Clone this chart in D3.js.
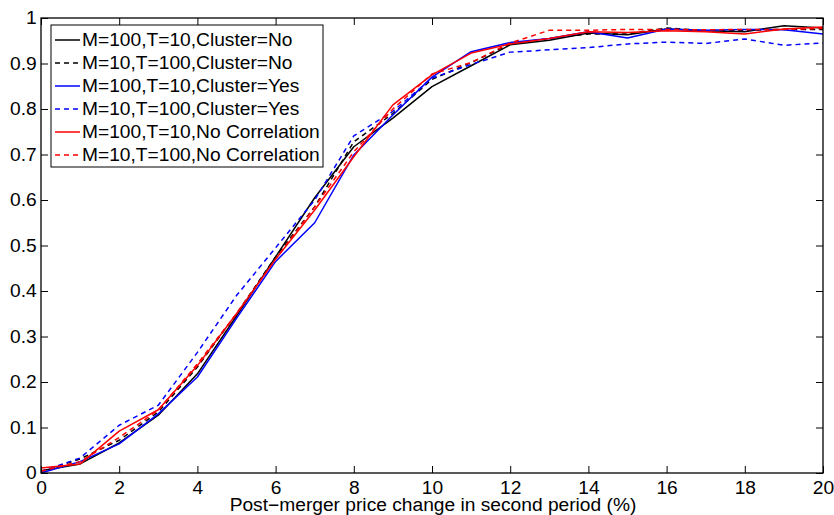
<!DOCTYPE html>
<html>
<head>
<meta charset="utf-8">
<script src="https://cdn.jsdelivr.net/npm/d3@7"></script>
<style>
  html, body { margin: 0; padding: 0; background: #fff; }
  svg { display: block; font-family: "Liberation Sans", Arial, Helvetica, sans-serif; }
</style>
</head>
<body>
<svg id="chart" width="834" height="515"></svg>
<script>
// Price change grid (%)
const priceChange = d3.range(0, 21);

// Cumulative share of simulations by scenario
const m100t10ClusterNo = [0.005, 0.020, 0.066, 0.127, 0.218, 0.345, 0.475, 0.605, 0.717, 0.780, 0.849, 0.895, 0.941, 0.951, 0.967, 0.963, 0.976, 0.972, 0.970, 0.983, 0.978];
const m10t100ClusterNo = [0.003, 0.031, 0.072, 0.134, 0.233, 0.350, 0.475, 0.585, 0.728, 0.790, 0.865, 0.902, 0.943, 0.955, 0.965, 0.965, 0.978, 0.972, 0.973, 0.975, 0.975];
const m100t10ClusterYes = [0.000, 0.025, 0.064, 0.130, 0.211, 0.340, 0.465, 0.550, 0.699, 0.787, 0.870, 0.926, 0.946, 0.955, 0.970, 0.956, 0.976, 0.973, 0.975, 0.974, 0.965];
const m10t100ClusterYes = [0.003, 0.033, 0.105, 0.149, 0.265, 0.390, 0.495, 0.600, 0.741, 0.795, 0.868, 0.898, 0.925, 0.930, 0.935, 0.943, 0.947, 0.944, 0.954, 0.940, 0.945];
const m100t10NoCorr = [0.011, 0.020, 0.092, 0.139, 0.236, 0.350, 0.470, 0.578, 0.695, 0.809, 0.875, 0.923, 0.943, 0.955, 0.970, 0.968, 0.972, 0.970, 0.965, 0.976, 0.980];
const m10t100NoCorr = [0.004, 0.025, 0.078, 0.138, 0.240, 0.350, 0.470, 0.585, 0.706, 0.800, 0.877, 0.902, 0.945, 0.973, 0.973, 0.975, 0.975, 0.974, 0.975, 0.975, 0.977];

const seriesLabels = [
  "M=100,T=10,Cluster=No",
  "M=10,T=100,Cluster=No",
  "M=100,T=10,Cluster=Yes",
  "M=10,T=100,Cluster=Yes",
  "M=100,T=10,No Correlation",
  "M=10,T=100,No Correlation"
];
const seriesValues = [m100t10ClusterNo, m10t100ClusterNo, m100t10ClusterYes, m10t100ClusterYes, m100t10NoCorr, m10t100NoCorr];
const seriesColors = ["#000000", "#000000", "#0000ff", "#0000ff", "#ff0000", "#ff0000"];
const seriesDashed = [false, true, false, true, false, true];

const xTicks = d3.range(0, 21, 2);
const yTicks = [0, 0.1, 0.2, 0.3, 0.4, 0.5, 0.6, 0.7, 0.8, 0.9, 1];
const xLabel = "Post\u2212merger price change in second period (%)";

const svg = d3.select("#chart");
const margin = { left: 41, right: 11, top: 18, bottom: 42 };
const W = 834, H = 515;
const x = d3.scaleLinear().domain([0, 20]).range([margin.left, W - margin.right]);
const y = d3.scaleLinear().domain([0, 1]).range([H - margin.bottom, margin.top]);

const tickLen = 7;
const fontSize = 18;
const stretch = "scale(1.066,1)"; // slightly wide lettering

// Series lines
const line = d3.line().x((d, i) => x(priceChange[i])).y(d => y(d));
seriesValues.forEach((vals, k) => {
  svg.append("path")
    .datum(vals)
    .attr("fill", "none")
    .attr("stroke", seriesColors[k])
    .attr("stroke-width", 1.5)
    .attr("stroke-dasharray", seriesDashed[k] ? "5,4" : null)
    .attr("stroke-linejoin", "round")
    .attr("d", line);
});

// Axes: inward ticks on all four sides, labels bottom and left
const bottomAxis = d3.axisBottom(x).tickValues(xTicks).tickSizeInner(-tickLen).tickSizeOuter(0).tickPadding(8).tickFormat(d3.format("d"));
const leftAxis = d3.axisLeft(y).tickValues(yTicks).tickSizeInner(-tickLen).tickSizeOuter(0).tickPadding(4).tickFormat(d => d === 0 || d === 1 ? String(d) : d3.format(".1f")(d));
const topAxis = d3.axisTop(x).tickValues(xTicks).tickSizeInner(-tickLen).tickSizeOuter(0).tickFormat("");
const rightAxis = d3.axisRight(y).tickValues(yTicks).tickSizeInner(-tickLen).tickSizeOuter(0).tickFormat("");

function styleAxis(g) {
  g.select(".domain").remove();
  g.selectAll(".tick line").attr("stroke", "#000").attr("stroke-width", 1);
  g.selectAll(".tick text")
    .attr("fill", "#000")
    .attr("font-size", fontSize)
    .attr("font-family", "Liberation Sans, Arial, sans-serif")
    .attr("transform", stretch);
}

svg.append("g").attr("transform", `translate(0,${y(0)})`).call(bottomAxis).call(styleAxis);
svg.append("g").attr("transform", `translate(${x(0)},0)`).call(leftAxis).call(styleAxis);
svg.append("g").attr("transform", `translate(0,${y(1)})`).call(topAxis).call(styleAxis);
svg.append("g").attr("transform", `translate(${x(20)},0)`).call(rightAxis).call(styleAxis);

// Frame
svg.append("rect")
  .attr("x", x(0)).attr("y", y(1))
  .attr("width", x(20) - x(0)).attr("height", y(0) - y(1))
  .attr("fill", "none").attr("stroke", "#000").attr("stroke-width", 1.3);

// Axis title
svg.append("text")
  .attr("transform", `translate(${(x(0) + x(20)) / 2 + 1},${H - 4}) ${stretch}`)
  .attr("text-anchor", "middle")
  .attr("font-size", fontSize)
  .attr("fill", "#000")
  .text(xLabel);

// Legend
const lg = svg.append("g").attr("transform", "translate(51,25)");
const rowH = 23;
lg.append("rect")
  .attr("x", 0).attr("y", 0)
  .attr("width", 272).attr("height", 142)
  .attr("fill", "#fff").attr("stroke", "#000").attr("stroke-width", 1);
seriesLabels.forEach((label, k) => {
  const cy = 15 + k * rowH;
  lg.append("line")
    .attr("x1", 4).attr("x2", 29)
    .attr("y1", cy).attr("y2", cy)
    .attr("stroke", seriesColors[k])
    .attr("stroke-width", 1.5)
    .attr("stroke-dasharray", seriesDashed[k] ? "5,4" : null);
  lg.append("text")
    .attr("transform", `translate(31,${cy}) ${stretch}`)
    .attr("dy", "0.36em")
    .attr("font-size", fontSize)
    .attr("fill", "#000")
    .text(label);
});
</script>
</body>
</html>
